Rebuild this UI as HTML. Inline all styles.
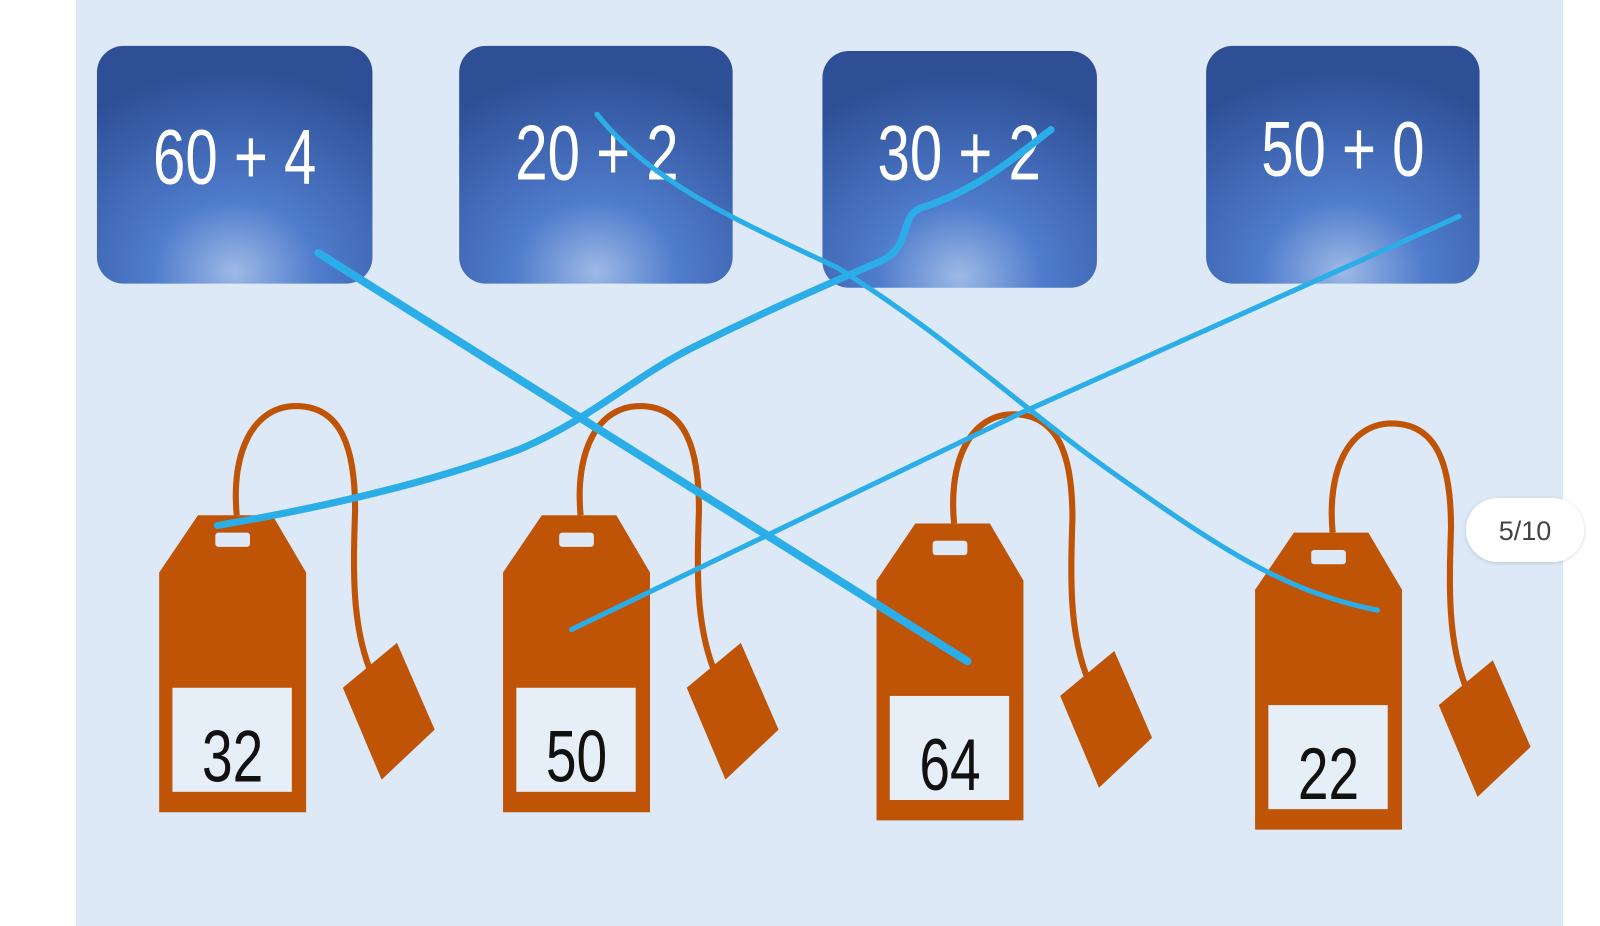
<!DOCTYPE html>
<html><head><meta charset="utf-8"><style>
html,body{margin:0;padding:0;background:#fff;width:1600px;height:926px;overflow:hidden}
svg{display:block}
</style></head><body>
<svg width="1600" height="926" viewBox="0 0 1600 926" xmlns="http://www.w3.org/2000/svg">
<defs>
<radialGradient id="g" cx="0.5" cy="0.95" r="0.85">
<stop offset="0" stop-color="#9db9e6"/>
<stop offset="0.35" stop-color="#4f7ccc"/>
<stop offset="1" stop-color="#2e4f96"/>
</radialGradient>
<filter id="sh" x="-20%" y="-50%" width="140%" height="200%">
<feDropShadow dx="0" dy="1" stdDeviation="2" flood-color="#000" flood-opacity="0.15"/>
</filter>
<g id="tag">
<path d="M232,505 C226,440 250,398 290,398 C335,398 348,440 348,500 C346,560 345,610 362,655" fill="none" stroke="#bf5306" stroke-width="6"/>
<polygon points="336,674 389,630 426,715 374,764" fill="#bf5306"/>
<polygon points="194,505 267,505 300,561 300,796 156,796 156,561" fill="#bf5306"/>
<rect x="211" y="522" width="34" height="14" rx="3" fill="#dde9f6"/>
<rect x="169" y="674" width="117" height="102" fill="#e6eef8"/>
</g>
</defs>
<rect x="76" y="0" width="1487" height="926" fill="#dde9f6"/>
<g transform="scale(1.0204)">
<rect x="95" y="45" width="270" height="233" rx="26" fill="url(#g)"/>
<rect x="450" y="45" width="268" height="233" rx="26" fill="url(#g)"/>
<rect x="806" y="50" width="269" height="232" rx="26" fill="url(#g)"/>
<rect x="1182" y="45" width="268" height="233" rx="26" fill="url(#g)"/>
<g font-family="Liberation Sans, sans-serif" font-size="76" fill="#fff" text-anchor="middle">
<text transform="translate(230,180) scale(0.75,1)">60 + 4</text>
<text transform="translate(585,176) scale(0.75,1)">20 + 2</text>
<text transform="translate(940,176) scale(0.75,1)">30 + 2</text>
<text transform="translate(1316,172) scale(0.75,1)">50 + 0</text>
</g>
<use href="#tag"/>
<use href="#tag" transform="translate(337,0)"/>
<use href="#tag" transform="translate(703,8)"/>
<use href="#tag" transform="translate(1074,17)"/>
<g font-family="Liberation Sans, sans-serif" font-size="72" fill="#111" text-anchor="middle">
<text transform="translate(228,766) scale(0.75,1)">32</text>
<text transform="translate(565,766) scale(0.75,1)">50</text>
<text transform="translate(931,774) scale(0.75,1)">64</text>
<text transform="translate(1302,783) scale(0.75,1)">22</text>
</g>
<g fill="none" stroke="#2bade8" stroke-linecap="round" stroke-linejoin="round">
<path d="M312,248 L948,648" stroke-width="8"/>
<path d="M585,112 C640,180 720,215 820,262 C930,330 1000,400 1100,470 C1200,540 1260,580 1350,598" stroke-width="5"/>
<path d="M213,515 C330,495 430,470 510,440 C580,410 620,370 680,340 C760,300 820,275 865,255 C895,240 880,210 905,203 C960,185 1000,150 1030,127" stroke-width="7"/>
<path d="M560,617 L1000,405 L1430,212" stroke-width="5"/>
</g>
</g>
<rect x="1466" y="498" width="118" height="64" rx="32" fill="#fff" filter="url(#sh)"/>
<text x="1525" y="540" font-family="Liberation Sans, sans-serif" font-size="27" fill="#444" text-anchor="middle">5/10</text>
</svg>
</body></html>
